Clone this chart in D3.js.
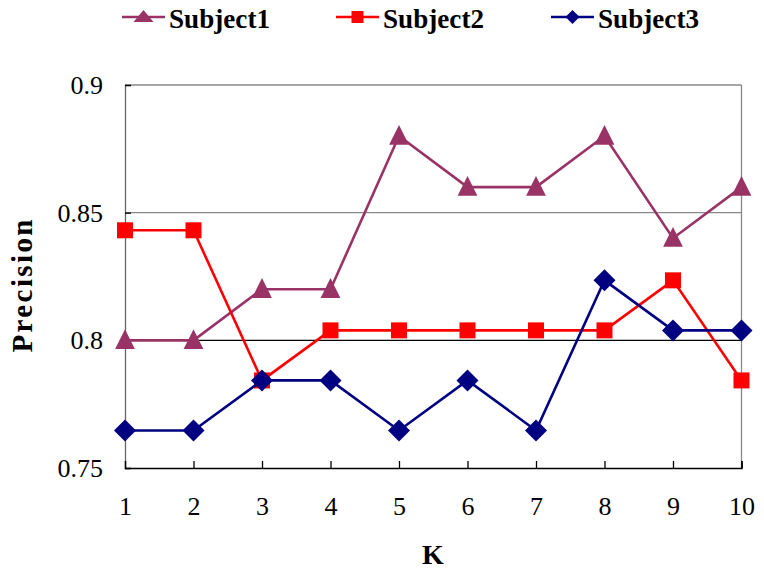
<!DOCTYPE html>
<html>
<head>
<meta charset="utf-8">
<script src="https://cdn.jsdelivr.net/npm/d3@7"></script>
<style>
  html, body { margin: 0; padding: 0; background: #fff; }
  svg { display: block; }
  text { font-family: "Liberation Serif", "Times New Roman", serif; fill: #000; }
</style>
</head>
<body>
<svg id="chart" width="764" height="575"></svg>
<script>
const kValues = [1, 2, 3, 4, 5, 6, 7, 8, 9, 10];
const subject1 = [0.80, 0.80, 0.82, 0.82, 0.88, 0.86, 0.86, 0.88, 0.84, 0.86];
const subject2 = [0.8431, 0.8431, 0.7843, 0.8039, 0.8039, 0.8039, 0.8039, 0.8039, 0.8235, 0.7843];
const subject3 = [0.7647, 0.7647, 0.7843, 0.7843, 0.7647, 0.7843, 0.7647, 0.8235, 0.8039, 0.8039];
const seriesNames = ["Subject1", "Subject2", "Subject3"];
const seriesColors = ["#993366", "#FF0000", "#000080"];
const yTicks = [0.75, 0.8, 0.85, 0.9];
const yTickLabels = ["0.75", "0.8", "0.85", "0.9"];
const xLabel = "K";
const yLabel = "Precision";

const svg = d3.select("#chart");
const pLeft = 125, pRight = 741.5, pTop = 85, pBottom = 468;

const x = d3.scaleLinear().domain([1, 10]).range([pLeft, pRight]);
const y = d3.scaleLinear().domain([0.75, 0.9]).range([pBottom, pTop]);

// grid lines
svg.append("g").selectAll("line").data(yTicks.filter(v => v > 0.75)).join("line")
  .attr("x1", pLeft).attr("x2", pRight)
  .attr("y1", d => y(d)).attr("y2", d => y(d))
  .attr("stroke", d => Math.abs(d - 0.8) < 1e-9 ? "#000" : "#888")
  .attr("stroke-width", 1.3);
// right border
svg.append("line").attr("x1", pRight).attr("x2", pRight).attr("y1", pTop).attr("y2", pBottom)
  .attr("stroke", "#888").attr("stroke-width", 1.3);

// y axis (ticks inward)
const yAxis = d3.axisLeft(y).tickValues(yTicks).tickSize(-6).tickFormat((d, i) => yTickLabels[i]).tickPadding(22);
const gy = svg.append("g").attr("transform", `translate(${pLeft},0)`).call(yAxis);
gy.select(".domain").attr("stroke", "#666").attr("stroke-width", 1.3);
gy.selectAll(".tick line").attr("stroke", "#000").attr("stroke-width", 1.3);
gy.selectAll("text").attr("font-family", "Liberation Serif, serif").attr("font-size", 26).attr("fill", "#000").attr("dy", "0.33em");

// x axis (ticks inward)
const xAxis = d3.axisBottom(x).tickValues(kValues).tickSize(-7).tickFormat(d3.format("d")).tickPadding(29);
const gx = svg.append("g").attr("transform", `translate(0,${pBottom})`).call(xAxis);
gx.select(".domain").attr("stroke", "#000").attr("stroke-width", 1.5);
gx.selectAll(".tick line").attr("stroke", "#000").attr("stroke-width", 1.3);
gx.selectAll(".tick").filter(d => d === 1).select("line").remove();
gx.selectAll("text").attr("font-family", "Liberation Serif, serif").attr("font-size", 26).attr("fill", "#000").attr("dy", "0.68em");

// axis titles
svg.append("text").attr("x", 433).attr("y", 564).attr("text-anchor", "middle")
  .attr("font-size", 28).attr("font-weight", "bold").text(xLabel);
svg.append("text").attr("transform", "translate(32,286) rotate(-90)").attr("text-anchor", "middle")
  .attr("font-size", 29).attr("font-weight", "bold")
  .attr("textLength", 133).attr("lengthAdjust", "spacing").text(yLabel);

// markers
const triangle = (s) => `M0,${-s * 0.62}L${s * 0.55},${s * 0.48}L${-s * 0.55},${s * 0.48}Z`;
const square = (s) => `M${-s / 2},${-s / 2}h${s}v${s}h${-s}Z`;
const diamond = (s) => `M0,${-s / 2}L${s / 2},0L0,${s / 2}L${-s / 2},0Z`;
const markers = [(s) => triangle(s), (s) => square(s), (s) => diamond(s)];
const plotSizes = [18, 16, 22];
const legendSizes = [16, 12, 14];

const allSeries = [subject1, subject2, subject3];
const line = d3.line().x((d, i) => x(kValues[i])).y(d => y(d));

allSeries.forEach((vals, si) => {
  const g = svg.append("g");
  g.append("path").datum(vals).attr("d", line)
    .attr("fill", "none").attr("stroke", seriesColors[si]).attr("stroke-width", 2.6);
  g.selectAll("path.m").data(vals).join("path").attr("class", "m")
    .attr("transform", (d, i) => `translate(${x(kValues[i])},${y(d)})`)
    .attr("d", markers[si](plotSizes[si]))
    .attr("fill", seriesColors[si]);
});

// legend
const legendLineStart = [122, 336, 551];
const legendY = 17;
seriesNames.forEach((name, si) => {
  const g = svg.append("g");
  const x0 = legendLineStart[si];
  g.append("line").attr("x1", x0).attr("x2", x0 + 43).attr("y1", legendY).attr("y2", legendY)
    .attr("stroke", seriesColors[si]).attr("stroke-width", 2.6);
  let m = markers[si](legendSizes[si]);
  g.append("path").attr("transform", `translate(${x0 + 21.5},${legendY})`)
    .attr("d", si === 0 ? `M0,-7L10,5L-10,5Z` : m).attr("fill", seriesColors[si]);
  g.append("text").attr("x", x0 + 47).attr("y", 28).attr("font-size", 28).attr("font-weight", "bold")
    .attr("textLength", 101).attr("lengthAdjust", "spacingAndGlyphs").text(name);
});
</script>
</body>
</html>
